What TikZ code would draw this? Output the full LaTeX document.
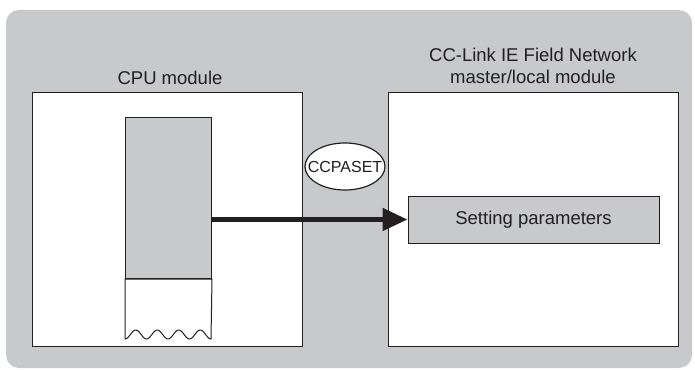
\documentclass[tikz,border=0pt]{standalone}
\usepackage{fontspec}
\setmainfont{Liberation Sans}
\usetikzlibrary{shapes.geometric,arrows.meta}
\definecolor{bg}{HTML}{C8C9CB}
\definecolor{ink}{HTML}{231F20}
\tikzset{
  module/.style={draw=ink, line width=1pt, fill=white, anchor=north west, inner sep=0pt},
  title/.style={text=ink, font=\fontsize{18.5}{22}\selectfont, align=center, inner sep=0pt},
  graybox/.style={draw=ink, line width=1pt, fill=bg, inner sep=0pt, text=ink, font=\fontsize{18.5}{22}\selectfont},
  instr/.style={ellipse, draw=ink, line width=1.2pt, fill=white, inner xsep=-9.5pt, inner ysep=0pt, text=ink, font=\fontsize{16}{20}\selectfont},
  bigarrow/.style={draw=ink, line width=5pt, -{Triangle[length=25pt,width=22pt]}}
}
\begin{document}
\begin{tikzpicture}[x=1pt,y=-1pt]
\useasboundingbox (0,0) rectangle (695,369);
\fill[bg, rounded corners=13pt] (6,10) rectangle (692,368);
% CPU module
\node[module, minimum width=270pt, minimum height=254pt] (cpu) at (32,92) {};
\node[title] (cputitle) at (170,78) {CPU module};
% column
\node[graybox, anchor=north west, minimum width=86pt, minimum height=161pt] (col) at (125,117) {};
\coordinate (wl) at (125,339);
\coordinate (wr) at (211,339);
\draw[draw=ink, line width=1pt, fill=white]
  (col.south west) -- (wl)
  -- plot[domain=125:211, samples=120, smooth] (\x,{334.5+4.5*cos(16.7442*(\x-125))})
  -- (wr) -- (col.south east) -- cycle;
% right module
\node[module, minimum width=290pt, minimum height=254pt] (net) at (388,92) {};
\node[title] (nettitle) at (533,66) {CC-Link IE Field Network\\master/local module};
\node[graybox, minimum width=251pt, minimum height=47pt] (sp) at (533.5,219.5) {Setting parameters};
% instruction
\node[instr, minimum width=80pt, minimum height=47pt] (cc) at (345,166.5) {CCPASET};
% arrow
\draw[bigarrow] (sp.west -| col.east) -- (sp.west);
\end{tikzpicture}
\end{document}
